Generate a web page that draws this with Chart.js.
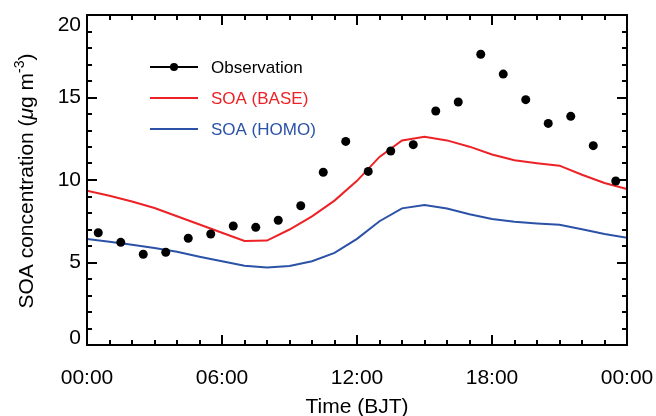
<!DOCTYPE html>
<html><head><meta charset="utf-8">
<script src="https://cdn.jsdelivr.net/npm/chart.js@4/dist/chart.umd.min.js"></script>
<style>html,body{margin:0;padding:0;background:#fff;}#wrap{width:656px;height:416px;}</style>
</head><body><div id="wrap"><canvas id="c" width="656" height="416"></canvas></div>
<script>
// ---- data ----
const obsHours = [0.5,1.5,2.5,3.5,4.5,5.5,6.5,7.5,8.5,9.5,10.5,11.5,12.5,13.5,14.5,15.5,16.5,17.5,18.5,19.5,20.5,21.5,22.5,23.5];
const obsValues = [6.8,6.22,5.5,5.62,6.47,6.73,7.21,7.13,7.56,8.44,10.47,12.34,10.52,11.76,12.14,14.18,14.73,17.62,16.42,14.87,13.43,13.86,12.08,9.94];
const modelHours = [0,1,2,3,4,5,6,7,8,9,10,11,12,13,14,15,16,17,18,19,20,21,22,23,24];
const baseValues = [9.35,9.04,8.7,8.3,7.8,7.3,6.8,6.3,6.33,7.0,7.8,8.75,9.95,11.4,12.4,12.62,12.4,12.02,11.55,11.2,11.02,10.87,10.32,9.82,9.45];
const homoValues = [6.42,6.26,6.08,5.88,5.65,5.35,5.08,4.8,4.7,4.79,5.08,5.58,6.43,7.5,8.28,8.48,8.27,7.93,7.64,7.47,7.37,7.29,7.01,6.73,6.5];
const xTickLabels = ['00:00','06:00','12:00','18:00','00:00'];
const seriesLabels = ['Observation','SOA (BASE)','SOA (HOMO)'];

const RED = '#ec2226', BLUE = '#2b52a6', FONT = '"Liberation Sans", Arial, Helvetica, sans-serif';

const pts = (xs, ys) => xs.map((x, i) => ({x, y: ys[i]}));

const framePlugin = {
  id: 'frame',
  beforeDraw(chart) {
    // IDL-style: keep end labels inside the axis span
    const items = chart.scales.y.getLabelItems();
    items.forEach(it => {
      if (it.label === '20') it.options.translation[1] += 10;
      if (it.label === '0') it.options.translation[1] -= 7;
    });
  },
  afterDraw(chart) {
    const ctx = chart.ctx, a = chart.chartArea, xs = chart.scales.x, ys = chart.scales.y;
    ctx.save();
    ctx.strokeStyle = '#000'; ctx.lineWidth = 2;
    ctx.strokeRect(a.left, a.top, a.right - a.left, a.bottom - a.top);
    ctx.beginPath();
    for (let h = 1; h < 24; h++) {
      const x = Math.round(xs.getPixelForValue(h));
      const len = h % 6 === 0 ? 10 : 5;
      ctx.moveTo(x, a.bottom); ctx.lineTo(x, a.bottom - len);
      ctx.moveTo(x, a.top); ctx.lineTo(x, a.top + len);
    }
    for (let v = 1; v < 20; v++) {
      const y = Math.round(ys.getPixelForValue(v));
      const len = v % 5 === 0 ? 10 : 5;
      ctx.moveTo(a.left, y); ctx.lineTo(a.left + len, y);
      ctx.moveTo(a.right, y); ctx.lineTo(a.right - len, y);
    }
    ctx.stroke();

    // legend
    const rows = [67, 98, 129];
    ctx.font = '17px ' + FONT; ctx.textBaseline = 'middle'; ctx.textAlign = 'left';
    chart.data.datasets.forEach((ds, i) => {
      const y = rows[i];
      const col = i === 0 ? '#000' : ds.borderColor;
      ctx.strokeStyle = col; ctx.lineWidth = 2;
      ctx.beginPath(); ctx.moveTo(150, y); ctx.lineTo(198, y); ctx.stroke();
      if (i === 0) { ctx.fillStyle = '#000'; ctx.beginPath(); ctx.arc(174, y, 4, 0, Math.PI * 2); ctx.fill(); }
      ctx.fillStyle = col;
      ctx.fillText(ds.label, 211, y + 1);
    });

    // y-axis title with italic mu and superscript
    ctx.translate(33, 181); ctx.rotate(-Math.PI / 2);
    ctx.fillStyle = '#000'; ctx.textBaseline = 'alphabetic';
    const segs = [
      {t: 'SOA concentration (', f: '21px ' + FONT, dy: 0},
      {t: 'μ', f: 'italic 21px ' + FONT, dy: 0},
      {t: 'g m', f: '21px ' + FONT, dy: 0},
      {t: '-3', f: '14px ' + FONT, dy: -9},
      {t: ')', f: '21px ' + FONT, dy: 0}
    ];
    let w = 0;
    segs.forEach(s => { ctx.font = s.f; s.w = ctx.measureText(s.t).width; w += s.w; });
    let x = -w / 2;
    segs.forEach(s => { ctx.font = s.f; ctx.fillText(s.t, x, s.dy); x += s.w; });
    ctx.restore();
  }
};

new Chart(document.getElementById('c'), {
  type: 'scatter',
  data: {
    datasets: [
      {label: seriesLabels[0], data: pts(obsHours, obsValues), showLine: false,
       pointRadius: 4.5, pointBackgroundColor: '#000', pointBorderWidth: 0, borderColor: '#000'},
      {label: seriesLabels[1], data: pts(modelHours, baseValues), showLine: true,
       borderColor: RED, borderWidth: 2, pointRadius: 0, tension: 0},
      {label: seriesLabels[2], data: pts(modelHours, homoValues), showLine: true,
       borderColor: BLUE, borderWidth: 2, pointRadius: 0, tension: 0}
    ]
  },
  options: {
    responsive: false, animation: false, devicePixelRatio: 1,
    layout: {padding: {top: 15, right: 29, left: 0, bottom: 0}},
    plugins: {legend: {display: false}, tooltip: {enabled: false}},
    scales: {
      x: {
        type: 'linear', min: 0, max: 24,
        grid: {display: false, drawTicks: false}, border: {display: false},
        ticks: {stepSize: 6, autoSkip: false, maxRotation: 0, padding: 21, color: '#000',
                font: {family: FONT, size: 21},
                callback: v => xTickLabels[Math.round(v / 6)]},
        title: {display: true, text: 'Time (BJT)', color: '#000',
                font: {family: FONT, size: 21, lineHeight: 0.8}, padding: {top: 0, bottom: 0}},
        afterFit: s => { s.height = 71; s.paddingLeft = 0; s.paddingRight = 0; }
      },
      y: {
        min: 0, max: 20,
        grid: {display: false, drawTicks: false}, border: {display: false},
        ticks: {stepSize: 5, padding: 6, color: '#000', font: {family: FONT, size: 21}},
        afterFit: s => { s.width = 87; s.paddingTop = 0; s.paddingBottom = 0; }
      }
    }
  },
  plugins: [framePlugin]
});
</script>
</body></html>
